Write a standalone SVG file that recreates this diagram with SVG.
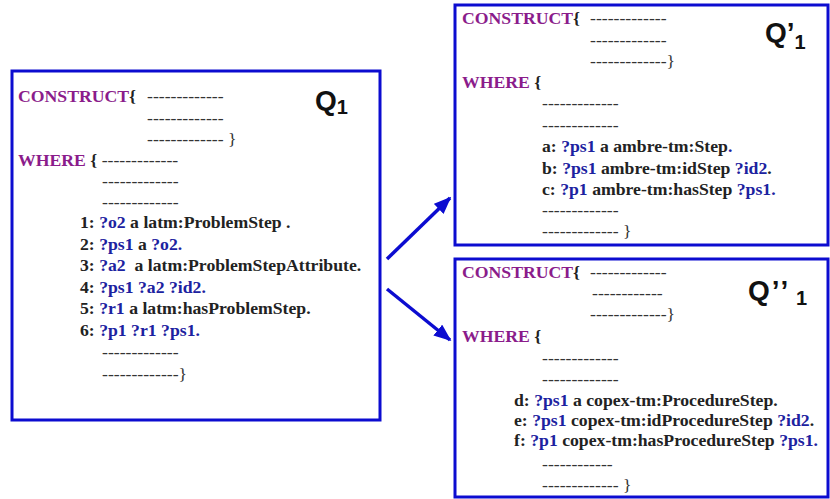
<svg xmlns="http://www.w3.org/2000/svg" width="830" height="499" viewBox="0 0 830 499">
<style>
  .box { fill: #ffffff; stroke: #0c0cd0; stroke-width: 3; }
  .t { font-family: "Liberation Serif", "Times New Roman", serif; font-size: 17.7px; font-weight: bold; fill: #222222; }
  .kw { fill: #8b1c8b; }
  .v { fill: #1c22a0; }
  .d { font-family: "Liberation Serif", "Times New Roman", serif; font-size: 17.7px; font-weight: normal; fill: #333333; }
  .q { font-family: "Liberation Sans", Arial, sans-serif; font-weight: bold; font-size: 28px; fill: #111111; }
  .qs { font-family: "Liberation Sans", Arial, sans-serif; font-weight: bold; font-size: 20px; fill: #111111; }
  .conn { stroke: #0c0cd0; stroke-width: 3.5; fill: none; marker-end: url(#ah); }
</style>
<defs>
  <marker id="ah" markerWidth="5" markerHeight="4" refX="4.5" refY="2" orient="auto" markerUnits="strokeWidth">
    <path d="M0,0 L5,2 L0,4 z" fill="#0c0cd0"/>
  </marker>
</defs>
<rect width="830" height="499" fill="#ffffff"/>

<g id="q1">
  <rect class="box" x="12" y="71" width="368" height="349"/>
  <text class="q" x="315" y="110">Q<tspan class="qs" dy="4">1</tspan></text>
  <text class="t kw" x="18" y="102">CONSTRUCT<tspan fill="#222222">{</tspan></text>
  <text class="d" x="147" y="102">-------------</text>
  <text class="d" x="147" y="124">-------------</text>
  <text class="d" x="147" y="145">------------- }</text>
  <text class="t" x="18" y="166"><tspan class="kw">WHERE</tspan> { <tspan class="d">-------------</tspan></text>
  <text class="d" x="102" y="187">-------------</text>
  <text class="d" x="102" y="208">-------------</text>
  <text class="t" x="80" y="228">1: <tspan class="v">?o2</tspan> a latm:ProblemStep .</text>
  <text class="t" x="80" y="250">2: <tspan class="v">?ps1</tspan> a <tspan class="v">?o2.</tspan></text>
  <text class="t" x="80" y="271" xml:space="preserve">3: <tspan class="v">?a2</tspan>  a latm:ProblemStepAttribute.</text>
  <text class="t" x="80" y="293">4: <tspan class="v">?ps1 ?a2 ?id2.</tspan></text>
  <text class="t" x="80" y="314">5: <tspan class="v">?r1</tspan> a latm:hasProblemStep.</text>
  <text class="t" x="80" y="336">6: <tspan class="v">?p1 ?r1 ?ps1.</tspan></text>
  <text class="d" x="102" y="358">-------------</text>
  <text class="d" x="102" y="380">-------------}</text>
</g>

<g id="q1prime">
  <rect class="box" x="455" y="5" width="373" height="240"/>
  <text class="q" x="765" y="42">Q’<tspan class="qs" dy="7">1</tspan></text>
  <text class="t kw" x="462" y="24">CONSTRUCT<tspan fill="#222222">{</tspan></text>
  <text class="d" x="590" y="24">-------------</text>
  <text class="d" x="590" y="46">-------------</text>
  <text class="d" x="590" y="67">-------------}</text>
  <text class="t" x="462" y="88"><tspan class="kw">WHERE</tspan> {</text>
  <text class="d" x="542" y="109">-------------</text>
  <text class="d" x="542" y="131">-------------</text>
  <text class="t" x="542" y="152">a: <tspan class="v">?ps1</tspan> a ambre-tm:Step<tspan class="v">.</tspan></text>
  <text class="t" x="542" y="174">b: <tspan class="v">?ps1</tspan> ambre-tm:idStep <tspan class="v">?id2</tspan>.</text>
  <text class="t" x="542" y="195">c: <tspan class="v">?p1</tspan> ambre-tm:hasStep <tspan class="v">?ps1.</tspan></text>
  <text class="d" x="542" y="216">-------------</text>
  <text class="d" x="542" y="237">------------- }</text>
</g>

<g id="q1second">
  <rect class="box" x="455" y="259" width="373" height="238"/>
  <text class="q" x="748" y="300" letter-spacing="2">Q’’<tspan class="qs" x="796" dy="5" letter-spacing="0">1</tspan></text>
  <text class="t kw" x="462" y="278">CONSTRUCT<tspan fill="#222222">{</tspan></text>
  <text class="d" x="590" y="278">-------------</text>
  <text class="d" x="592" y="299">------------</text>
  <text class="d" x="590" y="320">-------------}</text>
  <text class="t" x="462" y="342"><tspan class="kw">WHERE</tspan> {</text>
  <text class="d" x="542" y="364">-------------</text>
  <text class="d" x="542" y="385">-------------</text>
  <text class="t" x="514" y="406">d: <tspan class="v">?ps1</tspan> a copex-tm:ProcedureStep.</text>
  <text class="t" x="514" y="426">e: <tspan class="v">?ps1</tspan> copex-tm:idProcedureStep <tspan class="v">?id2</tspan>.</text>
  <text class="t" x="514" y="446">f: <tspan class="v">?p1</tspan> copex-tm:hasProcedureStep <tspan class="v">?ps1.</tspan></text>
  <text class="d" x="542" y="470">------------</text>
  <text class="d" x="542" y="491">------------- }</text>
</g>

<g id="connectors">
  <path class="conn" d="M387,259 L450,198"/>
  <path class="conn" d="M387,289 L450,340"/>
</g>
</svg>
